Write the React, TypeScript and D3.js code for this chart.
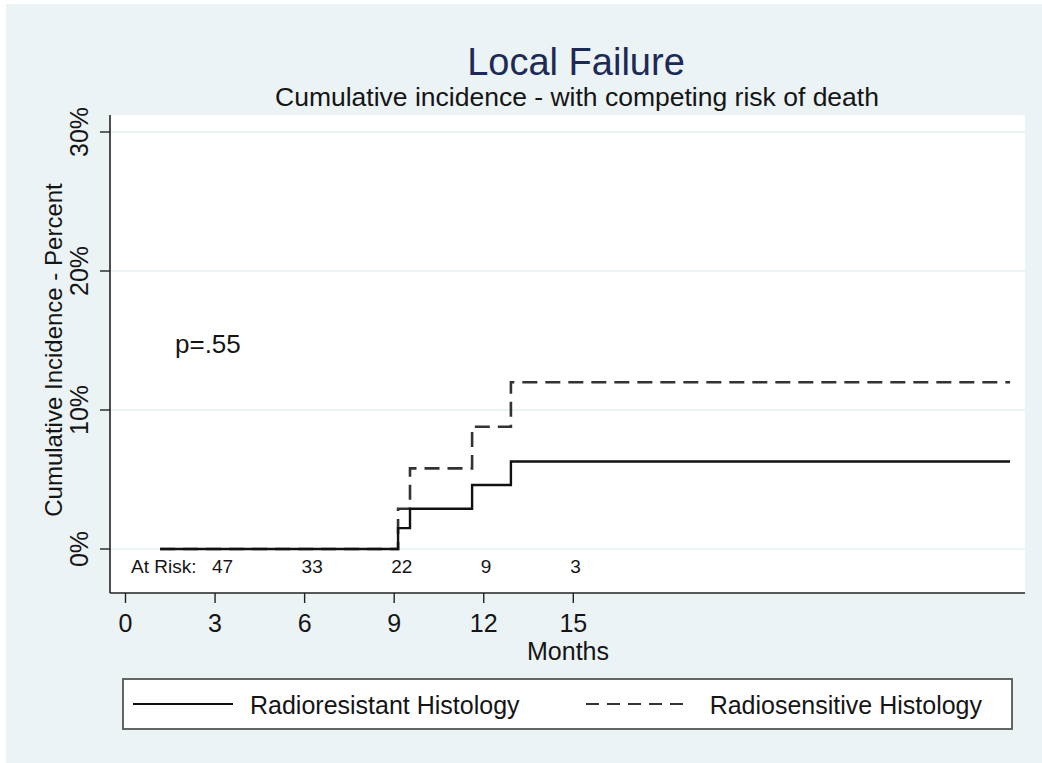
import React from "react";
import * as d3 from "d3";

const radioresistantTimes = [1.16, 9.13, 9.53, 11.61, 12.91, 29.63];
const radioresistantValues = [0, 1.5, 2.9, 4.6, 6.3, 6.3];
const radiosensitiveTimes = [1.16, 9.13, 9.53, 11.61, 12.91, 29.63];
const radiosensitiveValues = [0, 2.9, 5.8, 8.8, 12.0, 12.0];
const xTicks = [0, 3, 6, 9, 12, 15];
const yTicks = [0, 10, 20, 30];
const atRiskTimes = [3, 6, 9, 12, 15];
const atRiskCounts = [47, 33, 22, 9, 3];
const seriesNames = ["Radioresistant Histology", "Radiosensitive Histology"];

const W = 1042;
const H = 763;
const FONT = "'Liberation Sans', Arial, Helvetica, sans-serif";

export default function App() {
  const plotL = 110, plotR = 1025, plotT = 115, plotB = 593;
  const x = d3.scaleLinear().domain([0, 15]).range([125.5, 573.3]);
  const y = d3.scaleLinear().domain([0, 30]).range([549, 132]);
  const line = d3
    .line<[number, number]>()
    .x((d) => x(d[0]))
    .y((d) => y(d[1]))
    .curve(d3.curveStepAfter);
  const solid = radioresistantTimes.map((t, i) => [t, radioresistantValues[i]] as [number, number]);
  const dashed = radiosensitiveTimes.map((t, i) => [t, radiosensitiveValues[i]] as [number, number]);
  const bg = "#ebf3f5";
  const ink = "#151515";
  return (
    <svg
      width={W}
      height={H}
      style={{ position: "absolute", left: 0, top: 0, display: "block" }}
      fontFamily={FONT}
    >
      <rect x={0} y={0} width={W} height={H} fill="#ffffff" />
      <rect x={6} y={4} width={W - 6} height={H - 4} fill={bg} />
      <rect x={plotL} y={plotT} width={plotR - plotL} height={plotB - plotT} fill="#ffffff" />
      {yTicks.map((t) => (
        <line key={"g" + t} x1={plotL} x2={plotR} y1={y(t)} y2={y(t)} stroke="#e4eff2" strokeWidth={1.3} />
      ))}
      {/* title */}
      <text x={576} y={75} textAnchor="middle" fontSize={38} fill="#1c2a55">Local Failure</text>
      <text x={577} y={106} textAnchor="middle" fontSize={26.5} fill={ink}>
        Cumulative incidence - with competing risk of death
      </text>
      {/* axes */}
      <line x1={plotL} x2={plotL} y1={plotT} y2={plotB} stroke="#222" strokeWidth={1.6} />
      <line x1={plotL} x2={plotR} y1={plotB} y2={plotB} stroke="#222" strokeWidth={1.6} />
      {yTicks.map((t) => (
        <g key={"y" + t}>
          <line x1={plotL - 10} x2={plotL} y1={y(t)} y2={y(t)} stroke="#222" strokeWidth={1.4} />
          <text
            transform={`translate(${88},${y(t)}) rotate(-90)`}
            textAnchor="middle"
            fontSize={25}
            fill={ink}
          >
            {t + "%"}
          </text>
        </g>
      ))}
      <text transform={`translate(62,350) rotate(-90)`} textAnchor="middle" fontSize={24} fill={ink}>
        Cumulative Incidence - Percent
      </text>
      {xTicks.map((t) => (
        <g key={"x" + t}>
          <line x1={x(t)} x2={x(t)} y1={plotB} y2={plotB + 10} stroke="#222" strokeWidth={1.4} />
          <text x={x(t)} y={632} textAnchor="middle" fontSize={25} fill={ink}>{t}</text>
        </g>
      ))}
      <text x={568} y={660} textAnchor="middle" fontSize={25} fill={ink}>Months</text>
      {/* at risk */}
      <text x={131} y={573} fontSize={19} fill={ink}>At Risk:</text>
      {atRiskTimes.map((t, i) => (
        <text key={"r" + t} x={x(t) - 3} y={573} fontSize={19} fill={ink}>
          {atRiskCounts[i]}
        </text>
      ))}
      <text x={175} y={353} fontSize={26} fill={ink}>p=.55</text>
      {/* lines */}
      <path d={line(dashed) || ""} fill="none" stroke="#333" strokeWidth={2.6} strokeDasharray="15,8" />
      <path d={line(solid) || ""} fill="none" stroke="#111" strokeWidth={2.4} />
      {/* legend */}
      <rect x={123} y={679} width={889} height={50} fill="#ffffff" stroke="#555" strokeWidth={1.8} />
      <line x1={133} x2={233} y1={704} y2={704} stroke="#111" strokeWidth={2} />
      <text x={250} y={714} fontSize={25} fill={ink}>{seriesNames[0]}</text>
      <line x1={586} x2={683} y1={704} y2={704} stroke="#333" strokeWidth={2} strokeDasharray="13,8" />
      <text x={982} y={714} textAnchor="end" fontSize={25} fill={ink}>{seriesNames[1]}</text>
    </svg>
  );
}
